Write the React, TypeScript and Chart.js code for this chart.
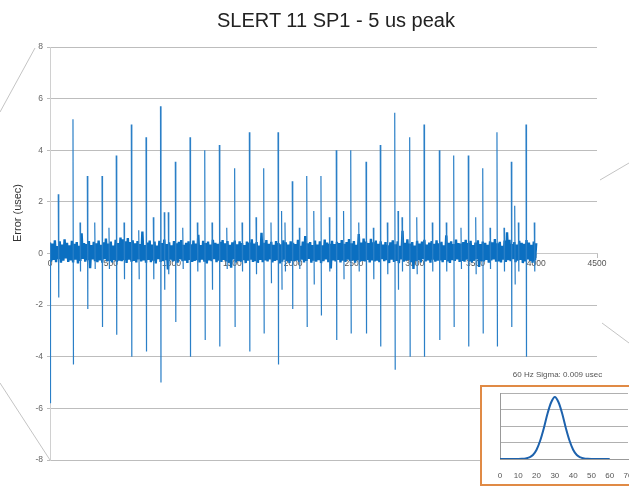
import React, { useEffect, useRef } from "react";
import { Chart, registerables } from "chart.js";

Chart.register(...registerables);

const FONT = "'Liberation Sans', Arial, sans-serif";

const TITLE = "SLERT 11 SP1 - 5 us peak";
const Y_TITLE = "Error (usec)";
const X_MIN = 0;
const X_MAX = 4500;
const X_STEP = 500;
const Y_MIN = -8;
const Y_MAX = 8;
const Y_STEP = 2;

// background jitter, one reading every NOISE_STEP samples (0 .. 4000)
const NOISE_STEP = 10;
const noise = [
  0.42, -0.31, 0.38, -0.25, 0.51, -0.34, 0.29, -0.22, 0.47, -0.36, 0.35, -0.28, 0.55, -0.19, 0.41, -0.33, 0.32, -0.27, 0.49, -0.35,
  0.37, -0.24, 0.44, -0.38, 0.30, -0.29, 0.78, -0.21, 0.40, -0.32, 0.36, -0.26, 0.48, -0.57, 0.33, -0.23, 0.45, -0.30, 0.39, -0.34,
  0.50, -0.27, 0.34, -0.36, 0.43, -0.22, 0.58, -0.31, 0.38, -0.29, 0.46, -0.35, 0.31, -0.25, 0.53, -0.33, 0.40, -0.28, 0.62, -0.30,
  0.55, -0.26, 0.47, -0.37, 0.60, -0.24, 0.44, -0.32, 0.51, -0.29, 0.39, -0.35, 0.48, -0.23, 0.36, -0.31, 0.85, -0.27, 0.33, -0.36,
  0.42, -0.25, 0.50, -0.34, 0.35, -0.28, 0.46, -0.38, 0.31, -0.22, 0.49, -0.33, 0.40, -0.29, 0.54, -0.26, 0.37, -0.62, 0.43, -0.24,
  0.32, -0.31, 0.48, -0.27, 0.39, -0.36, 0.45, -0.23, 0.52, -0.30, 0.34, -0.28, 0.41, -0.37, 0.47, -0.25, 0.36, -0.33, 0.50, -0.29,
  0.38, -0.26, 0.72, -0.35, 0.33, -0.24, 0.49, -0.32, 0.40, -0.38, 0.46, -0.27, 0.35, -0.30, 0.53, -0.22, 0.41, -0.34, 0.37, -0.28,
  0.45, -0.33, 0.52, -0.25, 0.39, -0.31, 0.48, -0.36, 0.34, -0.55, 0.43, -0.23, 0.50, -0.35, 0.36, -0.29, 0.47, -0.32, 0.40, -0.26,
  0.33, -0.37, 0.46, -0.28, 0.42, -0.24, 0.55, -0.33, 0.38, -0.30, 0.44, -0.36, 0.31, -0.25, 0.80, -0.34, 0.41, -0.27, 0.52, -0.31,
  0.37, -0.23, 0.45, -0.35, 0.34, -0.29, 0.48, -0.26, 0.40, -0.38, 0.36, -0.32, 0.51, -0.24, 0.43, -0.30, 0.35, -0.37, 0.47, -0.28,
  0.41, -0.30, 0.36, -0.27, 0.53, -0.33, 0.30, -0.24, 0.46, -0.35, 0.68, -0.29, 0.39, -0.21, 0.44, -0.36, 0.33, -0.28, 0.50, -0.32,
  0.35, -0.26, 0.47, -0.37, 0.32, -0.30, 0.54, -0.23, 0.42, -0.34, 0.38, -0.58, 0.49, -0.27, 0.36, -0.31, 0.45, -0.25, 0.40, -0.35,
  0.52, -0.28, 0.37, -0.33, 0.44, -0.24, 0.56, -0.30, 0.39, -0.27, 0.48, -0.36, 0.34, -0.26, 0.75, -0.32, 0.42, -0.29, 0.58, -0.31,
  0.46, -0.25, 0.40, -0.35, 0.57, -0.27, 0.43, -0.31, 0.50, -0.28, 0.37, -0.34, 0.47, -0.22, 0.35, -0.30, 0.44, -0.26, 0.32, -0.37,
  0.43, -0.24, 0.51, -0.33, 0.36, -0.29, 0.47, -0.37, 0.30, -0.23, 0.88, -0.32, 0.41, -0.28, 0.55, -0.25, 0.38, -0.34, 0.44, -0.60,
  0.31, -0.30, 0.49, -0.26, 0.38, -0.35, 0.46, -0.22, 0.53, -0.31, 0.35, -0.27, 0.42, -0.36, 0.48, -0.24, 0.37, -0.32, 0.51, -0.28,
  0.39, -0.27, 0.45, -0.34, 0.32, -0.25, 0.70, -0.31, 0.41, -0.37, 0.47, -0.26, 0.36, -0.29, 0.54, -0.23, 0.40, -0.33, 0.38, -0.29,
  0.44, -0.32, 0.53, -0.24, 0.40, -0.30, 0.49, -0.35, 0.33, -0.28, 0.42, -0.22, 0.51, -0.52, 0.37, -0.30, 0.46, -0.31, 0.41, -0.25,
  0.34, -0.36, 0.47, -0.27, 0.43, -0.23, 0.56, -0.32, 0.39, -0.31, 0.45, -0.35, 0.30, -0.24, 0.50, -0.33, 0.82, -0.26, 0.53, -0.30,
  0.36, -0.22, 0.44, -0.34, 0.35, -0.28, 0.49, -0.25, 0.41, -0.37, 0.37, -0.31, 0.52, -0.23, 0.42, -0.29, 0.34, -0.36, 0.46, -0.27,
  0.40,
];

// first-sample outlier (drawn as a spike: high end, low end)
const startX = [0];
const startHi = [0.42];
const startLo = [-5.8];

// large periodic spikes (peak, then trough)
const bigSpikeX = [68, 189, 307, 428, 545, 669, 790, 909, 1031, 1152, 1273, 1393, 1519, 1640, 1758, 1876, 1993, 2112, 2229, 2355, 2474, 2600, 2717, 2836, 2959, 3077, 3203, 3321, 3441, 3560, 3677, 3795, 3916];
const bigSpikeHi = [2.3, 5.2, 3.0, 3.0, 3.8, 5.0, 4.5, 5.7, 3.55, 4.5, 4.0, 4.2, 3.3, 4.7, 3.3, 4.7, 2.8, 3.0, 3.0, 4.0, 4.0, 3.55, 4.2, 5.45, 4.5, 5.0, 4.0, 3.8, 3.8, 3.3, 4.7, 3.55, 5.0];
const bigSpikeLo = [-1.7, -4.3, -2.15, -2.85, -3.15, -4.0, -3.8, -5.0, -2.65, -4.0, -3.35, -3.6, -2.85, -3.8, -3.1, -4.3, -2.15, -2.85, -2.4, -3.35, -3.1, -3.1, -3.6, -4.5, -4.0, -4.0, -3.35, -2.85, -3.6, -3.1, -3.6, -2.85, -4.0];

// small spikes between the large ones
const smallSpikeX = [247, 368, 485, 609, 730, 850, 940, 973, 1092, 1212, 1333, 1454, 1580, 1695, 1818, 1905, 1933, 2051, 2170, 2298, 2415, 2540, 2660, 2775, 2863, 2896, 3017, 3145, 3260, 3381, 3502, 3620, 3735, 3823, 3853, 3984];
const smallSpikeHi = [1.2, 1.2, 1.0, 1.2, 0.9, 1.4, 1.6, 1.6, 1.0, 1.2, 1.2, 1.0, 1.2, 1.4, 1.2, 1.65, 1.2, 1.0, 1.65, 1.4, 1.65, 1.2, 1.0, 1.2, 1.65, 1.4, 1.4, 1.2, 1.2, 1.0, 1.4, 1.0, 1.0, 1.85, 1.2, 1.2];
const smallSpikeLo = [-0.7, -0.6, -0.6, -1.0, -1.0, -1.0, -1.4, -0.8, -0.6, -0.7, -1.4, -0.6, -0.7, -0.8, -1.15, -1.4, -0.7, -0.6, -1.2, -0.7, -1.0, -0.7, -1.0, -0.8, -1.4, -0.7, -0.8, -0.7, -0.7, -0.6, -0.8, -0.6, -0.7, -1.2, -0.7, -0.7];
const SPIKE_GAP = 4;

// inset histogram
const INSET_TITLE = "60 Hz Sigma: 0.009 usec";
const histX = [0, 2, 4, 6, 8, 10, 12, 14, 16, 18, 20, 22, 24, 26, 28, 30, 32, 34, 36, 38, 40, 42, 44, 46, 48, 50, 52, 54, 56, 58, 60];
const histY = [0, 0, 0, 0, 0, 0, 0.002, 0.008, 0.024, 0.06, 0.14, 0.28, 0.47, 0.69, 0.86, 0.94, 0.86, 0.69, 0.47, 0.28, 0.14, 0.06, 0.024, 0.008, 0.002, 0, 0, 0, 0, 0, 0];
const INSET_X_MAX = 70;
const INSET_X_STEP = 10;

function buildNoise() {
  return noise.map((v, i) => ({ x: i * NOISE_STEP, y: v }));
}

function buildSpikes() {
  const groups: { x: number; y: number | null }[][] = [];
  const add = (xs: number[], hi: number[], lo: number[]) => {
    xs.forEach((x, i) => {
      groups.push([
        { x, y: hi[i] },
        { x: x + SPIKE_GAP, y: lo[i] },
        { x: x + SPIKE_GAP + 0.5, y: null },
      ]);
    });
  };
  add(startX, startHi, startLo);
  add(bigSpikeX, bigSpikeHi, bigSpikeLo);
  add(smallSpikeX, smallSpikeHi, smallSpikeLo);
  groups.sort((a, b) => a[0].x - b[0].x);
  return groups.flat();
}

const decorPlugin = {
  id: "decor",
  afterDraw(chart: any) {
    const ctx = chart.ctx;
    ctx.save();
    ctx.strokeStyle = "#c4c4c4";
    ctx.lineWidth = 1;
    const segs = [
      [0, 112, 35, 48],
      [0, 383, 50, 460],
      [600, 180, 629, 163],
      [602, 323, 629, 343],
    ];
    segs.forEach(([a, b, c, d]) => {
      ctx.beginPath();
      ctx.moveTo(a, b);
      ctx.lineTo(c, d);
      ctx.stroke();
    });
    ctx.translate(18, 213);
    ctx.rotate(-Math.PI / 2);
    ctx.fillStyle = "#333";
    ctx.font = `11px ${FONT}`;
    ctx.textAlign = "center";
    ctx.textBaseline = "middle";
    ctx.fillText(Y_TITLE, 0, 0);
    ctx.restore();
  },
};

function MainChart() {
  const ref = useRef<HTMLCanvasElement>(null);
  useEffect(() => {
    if (!ref.current) return;
    const chart = new Chart(ref.current, {
      type: "line",
      data: {
        datasets: [
          {
            data: buildSpikes(),
            borderColor: "#2a7fc7",
            borderWidth: 1.2,
            pointRadius: 0,
            tension: 0,
            fill: false,
            spanGaps: false,
          },
          {
            data: buildNoise(),
            borderColor: "#0b6fc1",
            borderWidth: 2.4,
            pointRadius: 0,
            tension: 0,
            fill: false,
          },
        ],
      },
      options: {
        animation: false,
        responsive: false,
        layout: { padding: { left: 0, right: 32, top: 47, bottom: 32 } },
        plugins: {
          legend: { display: false },
          tooltip: { enabled: false },
          title: { display: false },
        },
        scales: {
          x: {
            type: "linear",
            position: { y: 0 },
            min: X_MIN,
            max: X_MAX,
            z: 1,
            ticks: {
              stepSize: X_STEP,
              font: { size: 8.5, family: FONT },
              color: "#555",
              maxRotation: 0,
              padding: 1,
              callback: (v: any) => String(v),
            },
            grid: { display: true, drawOnChartArea: false, tickLength: 4, color: "#bbb" },
            border: { display: true, color: "#c8c8c8" },
          },
          y: {
            min: Y_MIN,
            max: Y_MAX,
            ticks: {
              stepSize: Y_STEP,
              font: { size: 8.5, family: FONT },
              color: "#666",
              padding: 4,
              callback: (v: any) => String(v),
            },
            grid: { color: "#bdbdbd", tickLength: 3 },
            border: { color: "#d0d0d0" },
            afterFit: (s: any) => {
              s.width = 50;
            },
          },
        },
      },
      plugins: [decorPlugin],
    } as any);
    return () => chart.destroy();
  }, []);
  return <canvas ref={ref} width={629} height={492} style={{ display: "block" }} />;
}

function InsetChart() {
  const ref = useRef<HTMLCanvasElement>(null);
  useEffect(() => {
    if (!ref.current) return;
    const chart = new Chart(ref.current, {
      type: "line",
      data: {
        datasets: [
          {
            data: histX.map((x, i) => ({ x, y: histY[i] })),
            borderColor: "#1d62ad",
            borderWidth: 2,
            pointRadius: 0,
            cubicInterpolationMode: "monotone",
            fill: false,
          },
        ],
      },
      options: {
        animation: false,
        responsive: false,
        layout: { padding: { left: 0, right: 10, top: 6, bottom: 0 } },
        plugins: { legend: { display: false }, tooltip: { enabled: false }, title: { display: false } },
        scales: {
          x: {
            type: "linear",
            min: 0,
            max: INSET_X_MAX,
            ticks: { stepSize: INSET_X_STEP, font: { size: 8, family: FONT }, color: "#555", padding: 4, maxRotation: 0 },
            grid: { display: false },
            border: { display: true, color: "#999" },
            afterFit: (s: any) => {
              s.height = 25;
            },
          },
          y: {
            min: 0,
            max: 1,
            ticks: { display: false, stepSize: 0.25 },
            grid: { color: "#b0b0b0", tickLength: 0 },
            border: { display: true, color: "#999" },
            afterFit: (s: any) => {
              s.width = 18;
            },
          },
        },
      },
    } as any);
    return () => chart.destroy();
  }, []);
  return <canvas ref={ref} width={156} height={97} style={{ display: "block" }} />;
}

export default function App() {
  return (
    <div
      style={{
        position: "absolute",
        left: 0,
        top: 0,
        width: 629,
        height: 492,
        overflow: "hidden",
        background: "#fff",
        fontFamily: FONT,
      }}
    >
      <MainChart />
      <div
        style={{
          position: "absolute",
          left: 136,
          top: 8,
          width: 400,
          textAlign: "center",
          fontSize: 20,
          lineHeight: "24px",
          color: "#222",
        }}
      >
        {TITLE}
      </div>
      <div
        style={{
          position: "absolute",
          left: 480,
          top: 370,
          width: 155,
          textAlign: "center",
          fontSize: 8,
          lineHeight: "10px",
          color: "#555",
        }}
      >
        {INSET_TITLE}
      </div>
      <div
        style={{
          position: "absolute",
          left: 480,
          top: 385,
          width: 160,
          height: 101,
          boxSizing: "border-box",
          border: "2px solid #e08a45",
          background: "#fff",
        }}
      >
        <InsetChart />
      </div>
    </div>
  );
}
